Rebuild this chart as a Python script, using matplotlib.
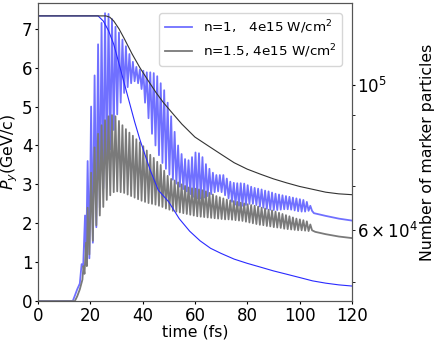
import numpy as np
import matplotlib
matplotlib.use('Agg')
import matplotlib.pyplot as plt
from matplotlib.ticker import LogLocator

# --- Py, n=1 (blue): smooth rise, then fast oscillation, then smooth tail
t_rise_n1 = [0, 13.3, 14.0, 15.0, 16.0, 16.7, 17.3, 18.0, 18.4]
py_rise_n1 = [0, 0, 0.12, 0.3, 0.45, 0.95, 0.9, 2.2, 1.0]

osc_start = 19.0      # first spike (fs)
osc_period = 1.33     # spike spacing (fs)

peaks_n1 = [3.6, 5.0, 5.8, 6.6, 7.15, 7.4, 7.38, 7.25, 7.05, 6.9,
            6.72, 6.55, 6.35, 6.15, 6.02, 5.95, 5.92, 5.88, 5.88, 5.86,
            5.78, 5.6, 5.42, 5.1, 4.75, 4.35, 4.0, 3.78, 3.65, 3.62,
            3.7, 3.82, 3.8, 3.7, 3.52, 3.4, 3.3, 3.24, 3.24, 3.24,
            3.15, 3.07, 3.04, 3.03, 3.03, 3.02, 2.98, 2.94, 2.91, 2.89,
            2.87, 2.84, 2.82, 2.79, 2.76, 2.74, 2.72, 2.7, 2.68, 2.66,
            2.64, 2.62, 2.6, 2.55, 2.45]
troughs_n1 = [1.1, 1.5, 1.9, 2.4, 2.9, 3.4, 3.9, 4.4, 4.8, 5.1,
              5.35, 5.5, 5.6, 5.65, 5.6, 5.45, 5.1, 4.7, 4.3, 4.0,
              3.75, 3.55, 3.4, 3.25, 3.12, 3.02, 2.94, 2.88, 2.82, 2.75,
              2.68, 2.64, 2.64, 2.66, 2.7, 2.75, 2.8, 2.82, 2.8, 2.72,
              2.64, 2.55, 2.48, 2.45, 2.45, 2.47, 2.5, 2.5, 2.47, 2.43,
              2.4, 2.37, 2.35, 2.34, 2.34, 2.35, 2.36, 2.36, 2.35, 2.33,
              2.31, 2.3, 2.3, 2.32, 2.32]
t_tail_n1 = [105.5, 108, 110, 115, 120]
py_tail_n1 = [2.26, 2.22, 2.19, 2.12, 2.07]

# --- Py, n=1.5 (gray)
t_rise_n15 = [0, 14.1, 15.0, 16.0, 17.0, 17.4, 17.8, 18.4, 18.7]
py_rise_n15 = [0, 0, 0.12, 0.3, 0.55, 0.9, 0.7, 1.5, 0.9]

peaks_n15 = [2.4, 3.3, 3.95, 4.3, 4.52, 4.65, 4.75, 4.78, 4.75, 4.63,
             4.52, 4.42, 4.33, 4.25, 4.16, 4.08, 3.98, 3.87, 3.76, 3.68,
             3.58, 3.5, 3.35, 3.22, 3.14, 3.1, 3.05, 3.0, 2.96, 2.92,
             2.9, 2.89, 2.87, 2.85, 2.82, 2.78, 2.74, 2.7, 2.67, 2.64,
             2.61, 2.59, 2.57, 2.55, 2.53, 2.51, 2.49, 2.47, 2.45, 2.43,
             2.4, 2.38, 2.35, 2.33, 2.3, 2.27, 2.24, 2.21, 2.18, 2.15,
             2.12, 2.1, 2.08, 2.05, 1.97]
troughs_n15 = [1.2, 1.55, 1.95, 2.2, 2.42, 2.6, 2.72, 2.8, 2.82, 2.8,
               2.78, 2.74, 2.7, 2.66, 2.62, 2.58, 2.55, 2.52, 2.5, 2.48,
               2.45, 2.42, 2.38, 2.35, 2.32, 2.3, 2.28, 2.26, 2.24, 2.22,
               2.2, 2.18, 2.17, 2.16, 2.15, 2.14, 2.13, 2.12, 2.11, 2.1,
               2.1, 2.09, 2.08, 2.07, 2.06, 2.04, 2.02, 2.0, 1.98, 1.96,
               1.95, 1.93, 1.92, 1.9, 1.89, 1.88, 1.86, 1.85, 1.84, 1.83,
               1.82, 1.82, 1.81, 1.8, 1.82]
t_tail_n15 = [106, 110, 115, 120]
py_tail_n15 = [1.78, 1.72, 1.66, 1.62]

# --- Number of marker particles (right, log axis)
t_mark_n1 = [0, 23, 25, 27, 29, 31, 33, 35, 37, 39, 41, 43, 46, 50, 54, 58,
             62, 66, 70, 75, 80, 85, 90, 95, 100, 105, 110, 115, 120]
n_mark_n1 = [1.276e5, 1.276e5, 1.253e5, 1.211e5, 1.154e5, 1.078e5, 1.0065e5,
             9.40e4, 8.78e4, 8.25e4, 7.81e4, 7.40e4, 6.91e4, 6.63e4, 6.25e4,
             5.98e4, 5.78e4, 5.63e4, 5.53e4, 5.42e4, 5.34e4, 5.27e4, 5.20e4,
             5.14e4, 5.08e4, 5.02e4, 4.98e4, 4.95e4, 4.93e4]
t_mark_n15 = [0, 26, 27.5, 29, 31, 33, 36, 39, 42, 45, 48, 51, 55, 60, 65,
              70, 75, 80, 85, 90, 95, 100, 105, 110, 115, 120]
n_mark_n15 = [1.276e5, 1.276e5, 1.270e5, 1.253e5, 1.219e5, 1.178e5, 1.116e5,
              1.063e5, 1.018e5, 9.76e4, 9.40e4, 9.10e4, 8.72e4, 8.33e4, 8.08e4,
              7.84e4, 7.61e4, 7.44e4, 7.31e4, 7.19e4, 7.09e4, 7.00e4, 6.93e4,
              6.86e4, 6.82e4, 6.80e4]

labels = ['n=1,   4e15 W/cm$^2$', 'n=1.5, 4e15 W/cm$^2$']


def build(t_rise, py_rise, peaks, troughs, t_tail, py_tail):
    k = np.arange(len(peaks))
    tp = osc_start + k * osc_period
    t_osc = np.column_stack([tp, tp + osc_period / 2]).ravel()
    v_osc = np.column_stack([peaks, troughs]).ravel()
    t = np.concatenate([t_rise, t_osc, t_tail])
    v = np.concatenate([py_rise, v_osc, py_tail])
    return t, v


t1, py1 = build(t_rise_n1, py_rise_n1, peaks_n1, troughs_n1, t_tail_n1, py_tail_n1)
t2, py2 = build(t_rise_n15, py_rise_n15, peaks_n15, troughs_n15, t_tail_n15, py_tail_n15)

fs = 12     # tick labels
lfs = 11.3  # axis labels
fig = plt.figure(figsize=(4.36, 3.41), dpi=100)
ax = fig.add_axes([0.087, 0.117, 0.72, 0.874])
ax.plot(t1, py1, color='#7070ff', lw=1.3, label=labels[0])
ax.plot(t2, py2, color='#7a7a7a', lw=1.3, label=labels[1])
ax.set_xlim(0, 120)
ax.set_ylim(0, 7.66)
ax.set_xticks([0, 20, 40, 60, 80, 100, 120])
ax.set_yticks(range(8))
ax.tick_params(labelsize=fs, length=2.5, pad=1.5)
ax.set_xlabel('time (fs)', fontsize=lfs, labelpad=0)
ax.set_ylabel('$P_y$(GeV/c)', fontsize=lfs, labelpad=1)
ax.legend(loc='upper right', fontsize=9.7, handlelength=2.0,
          borderaxespad=0.4, bbox_to_anchor=(0.985, 0.985))

ax2 = ax.twinx()
ax2.set_yscale('log')
ax2.plot(t_mark_n1, n_mark_n1, color='#2a2aff', lw=0.8)
ax2.plot(t_mark_n15, n_mark_n15, color='#333333', lw=0.8)
ax2.set_ylim(4.675e4, 1.335e5)
ax2.yaxis.set_major_locator(LogLocator(base=10))
ax2.yaxis.set_minor_locator(LogLocator(base=10, subs=np.arange(2, 10)))
ax2.tick_params(labelsize=fs, which='both', length=2.5, pad=1.5)
ax2.set_ylabel('Number of marker particles', fontsize=lfs, labelpad=1)

for a in (ax, ax2):
    for s in a.spines.values():
        s.set_color('#555555')

fig.savefig('out.png', dpi=100)
